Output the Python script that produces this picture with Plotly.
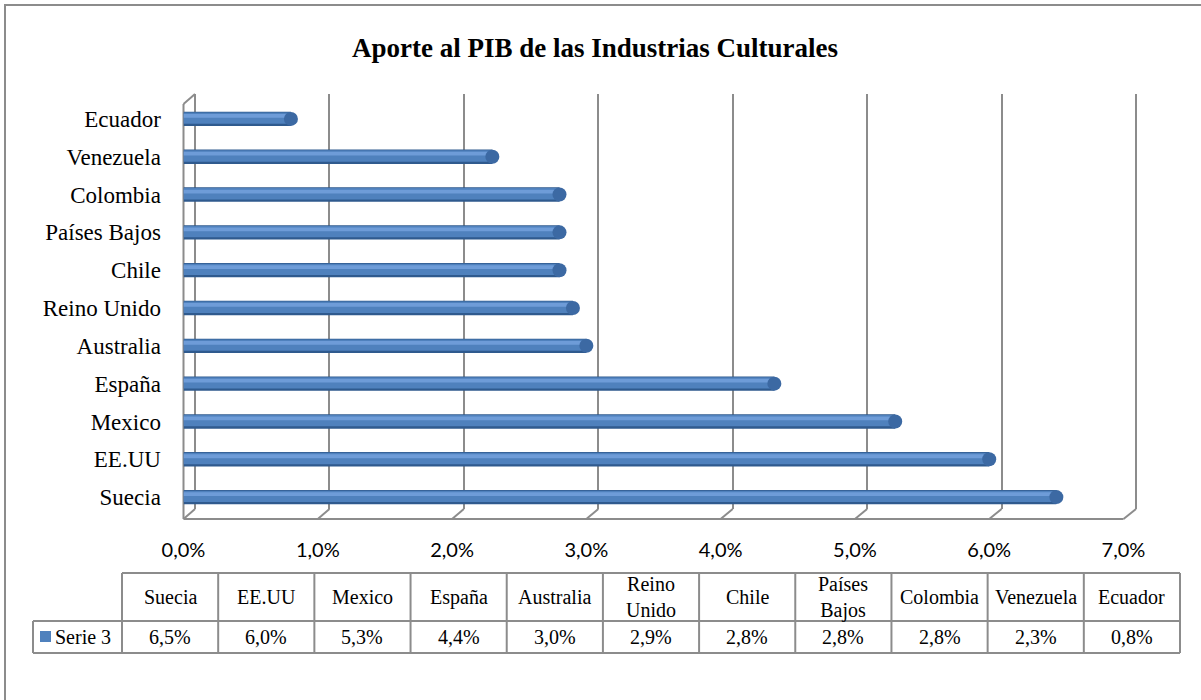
import plotly.graph_objects as go

# ---------------- data ----------------
countries = ["Suecia", "EE.UU", "Mexico", "España", "Australia", "Reino Unido",
             "Chile", "Países Bajos", "Colombia", "Venezuela", "Ecuador"]
values = [6.5, 6.0, 5.3, 4.4, 3.0, 2.9, 2.8, 2.8, 2.8, 2.3, 0.8]
table_headers = ["Suecia", "EE.UU", "Mexico", "España", "Australia", "Reino<br>Unido",
                 "Chile", "Países<br>Bajos", "Colombia", "Venezuela", "Ecuador"]
series_name = "Serie 3"
tick_vals = [0, 1, 2, 3, 4, 5, 6, 7]
tick_text = ["0,0%", "1,0%", "2,0%", "3,0%", "4,0%", "5,0%", "6,0%", "7,0%"]
title_text = "Aporte al PIB de las Industrias Culturales"

# ---------------- geometry helpers ----------------
W, H = 1201, 700
def px(x): return x / W
def py(y): return 1 - y / H

FX0, FX1 = 183.5, 1123.5      # front plane (0..7)
BX0, BX1 = 195.0, 1136.0      # back wall (0..7)
B_TOP, B_BOT = 94, 509
F_TOP, F_BOT = 104, 519
XMAX = tick_vals[-1]
def fx(v): return FX0 + (FX1 - FX0) * v / XMAX
def bx(v): return BX0 + (BX1 - BX0) * v / XMAX

GRID = "#8C8C8C"
SERIF = "Liberation Serif"

fig = go.Figure()

# invisible trace so the back-wall subplot (gridlines) is drawn
fig.add_trace(go.Scatter(x=[0], y=[0], xaxis="x", yaxis="y", mode="markers",
                         marker=dict(opacity=0), hoverinfo="skip", showlegend=False))

# bars (cylinder-like shading using overlaid bars)
layers = [("#2F5A8E", -0.19, 0.38), ("#4F81BD", -0.13, 0.30), ("#6E9CD8", 0.03, 0.10)]
for color, off, wd in layers:
    fig.add_trace(go.Bar(x=values, y=countries, orientation="h", xaxis="x2", yaxis="y2",
                         marker=dict(color=color, line=dict(width=0)),
                         offset=off, width=wd, hoverinfo="skip", showlegend=False))
# rounded end caps
fig.add_trace(go.Scatter(x=values, y=countries, xaxis="x2", yaxis="y2", mode="markers",
                         marker=dict(symbol="circle", size=14, color="#3C69A3", line=dict(width=0)),
                         hoverinfo="skip", showlegend=False))

shapes = []
def line(x0, y0, x1, y1, w=2, c=GRID):
    shapes.append(dict(type="line", xref="paper", yref="paper",
                       x0=px(x0), y0=py(y0), x1=px(x1), y1=py(y1),
                       line=dict(color=c, width=w), layer="below"))

# 3D frame: left wall front edge, top diagonal, floor front edge, diagonals
line(FX0, F_TOP, FX0, F_BOT)
line(FX0, F_TOP, BX0, B_TOP)
line(FX0, F_BOT, FX1, F_BOT)
line(BX1, B_TOP, BX1, B_BOT)
line(BX0, B_TOP, BX0, B_BOT)
for v in tick_vals:
    line(bx(v), B_BOT, fx(v), F_BOT)

# data table
T_TOP, T_MID, T_BOT = 573, 621, 653
LBL_X = 33
C0, C1 = 122, 1180
n = len(countries)
cw = (C1 - C0) / n
line(C0, T_TOP, C1, T_TOP)
line(LBL_X, T_MID, C1, T_MID)
line(LBL_X, T_BOT, C1, T_BOT)
line(LBL_X, T_MID, LBL_X, T_BOT)
for i in range(n + 1):
    line(C0 + i * cw, T_TOP, C0 + i * cw, T_BOT)

# legend key
shapes.append(dict(type="rect", xref="paper", yref="paper",
                   x0=px(40), x1=px(51), y0=py(642), y1=py(631),
                   fillcolor="#4F81BD", line=dict(width=0)))

# outer chart border (right/bottom off-canvas)
shapes.append(dict(type="rect", xref="paper", yref="paper",
                   x0=px(5), y0=py(5), x1=px(1215), y1=py(715),
                   line=dict(color=GRID, width=2), fillcolor="rgba(0,0,0,0)", layer="below"))

TFONT = dict(family=SERIF, size=20, color="black")
annotations = []
for i, (h, v) in enumerate(zip(table_headers, values)):
    cx = C0 + (i + 0.5) * cw
    annotations.append(dict(xref="paper", yref="paper", x=px(cx), y=py((T_TOP + T_MID) / 2),
                            text=h, showarrow=False, xanchor="center", yanchor="middle",
                            font=TFONT))
    annotations.append(dict(xref="paper", yref="paper", x=px(cx), y=py((T_MID + T_BOT) / 2),
                            text=f"{v:.1f}%".replace(".", ","), showarrow=False,
                            xanchor="center", yanchor="middle", font=TFONT))
annotations.append(dict(xref="paper", yref="paper", x=px(53), y=py((T_MID + T_BOT) / 2),
                        text=series_name, showarrow=False, xanchor="left", yanchor="middle",
                        font=TFONT))

fig.update_layout(
    width=W, height=H, margin=dict(l=0, r=0, t=0, b=0, autoexpand=False),
    paper_bgcolor="white", plot_bgcolor="rgba(0,0,0,0)",
    barmode="overlay", showlegend=False,
    title=dict(text=title_text, x=px(595), xanchor="center", y=py(48), yanchor="middle",
               font=dict(family=SERIF, size=27, color="black", weight="bold")),
    # back wall (gridlines)
    xaxis=dict(domain=[px(BX0), px(BX1)], range=[0, XMAX], anchor="y", automargin=False,
               tickvals=tick_vals, showgrid=True, gridcolor=GRID, gridwidth=2,
               showticklabels=False, zeroline=False, showline=False, ticks=""),
    yaxis=dict(domain=[py(B_BOT), py(B_TOP)], range=[0, 1], anchor="x", automargin=False,
               showgrid=False, showticklabels=False, zeroline=False, showline=False, ticks=""),
    # front plane (bars, labels)
    xaxis2=dict(domain=[px(FX0), px(FX1)], range=[0, XMAX], anchor="free", position=py(536),
                automargin=False,
                tickvals=tick_vals, ticktext=tick_text, showgrid=False, zeroline=False,
                showline=False, ticks="",
                tickfont=dict(family="Lato", size=20, color="black")),
    yaxis2=dict(domain=[py(516), py(100)], range=[-0.5, n - 0.5], anchor="x2",
                automargin=False,
                type="category", categoryorder="array", categoryarray=countries,
                showgrid=False, zeroline=False, showline=False,
                ticks="outside", ticklen=17, tickcolor="rgba(0,0,0,0)",
                tickfont=dict(family=SERIF, size=23, color="black")),
    shapes=shapes, annotations=annotations,
)

fig.write_html("out.html", config={"displayModeBar": False},
               post_script="document.body.style.margin='0px';")
